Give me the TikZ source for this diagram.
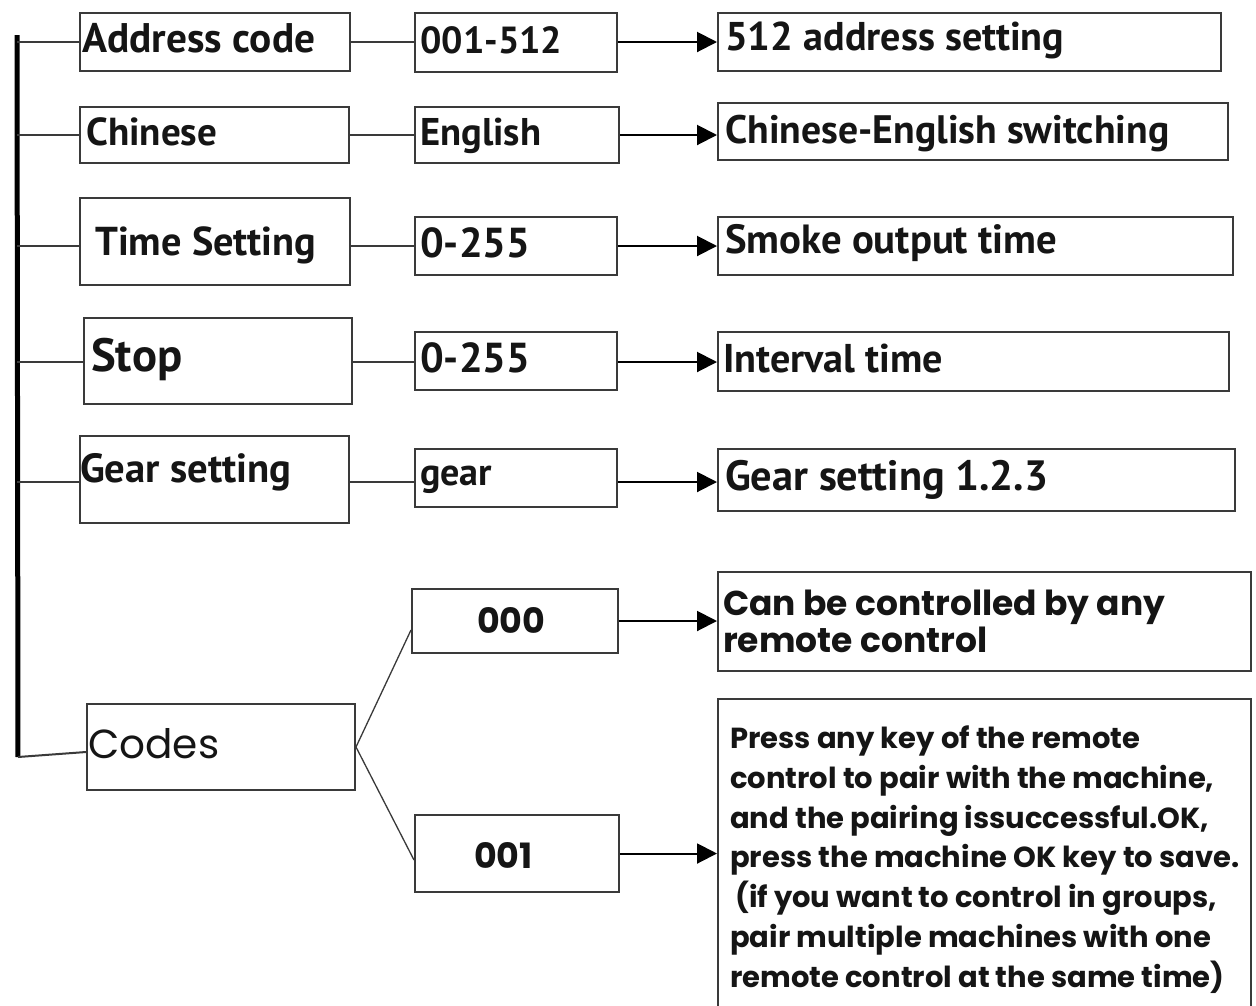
\documentclass[tikz,border=0pt]{standalone}
\usepackage{fontspec}
\usepackage{graphicx}
\setmainfont{PT Sans}
\newfontfamily\popfont{Poppins}
\usetikzlibrary{arrows.meta,fit}
\definecolor{boxc}{HTML}{3A3A3A}
\definecolor{txtc}{HTML}{151515}
\newcommand\fitw[2]{\resizebox{#1pt}{!}{#2}}
\newcommand\fith[2]{\resizebox{!}{#1pt}{#2}}
\begin{document}
\begin{tikzpicture}[x=1pt,y=-1pt,
  box/.style={draw=boxc,line width=2pt,inner sep=0pt,rectangle},
  lbl/.style={inner sep=0pt,anchor=base west,text=txtc,font=\bfseries},
  plbl/.style={inner sep=0pt,anchor=base west,text=txtc,font=\popfont\bfseries},
  mlbl/.style={inner sep=0pt,anchor=base west,text=txtc,font=\popfont},
  para/.style={inner sep=0pt,anchor=base west,text=txtc,font=\popfont\bfseries\fontsize{29}{40}\selectfont},
  link/.style={draw=boxc,line width=2pt},
  diag/.style={draw=boxc,line width=1.3pt},
  arr/.style={draw=black,line width=2pt,-{Triangle[length=20pt,width=20pt]}},
  spinel/.style={draw=black,line width=5pt}]
\fill[white] (0,0) rectangle (1256,1005);
\clip (0,0) rectangle (1256,1005);

% row coordinates
\coordinate (r1) at (0,42);
\coordinate (r2) at (0,135);
\coordinate (r3) at (0,246);
\coordinate (r4) at (0,362);
\coordinate (r5) at (0,482);
\coordinate (rc) at (0,752);
\coordinate (dk0) at (0,630);
\coordinate (dk1) at (0,860);
\coordinate (sp) at (17,35);
\coordinate (spb) at (18,757);

% boxes row 1
\node[box,fit={(80,13) (350,71)}] (a1) {};
\node[box,fit={(415,13) (617,72)}] (b1) {};
\node[box,fit={(718,13) (1221,71)}] (c1) {};
% row 2
\node[box,fit={(80,107) (349,163)}] (a2) {};
\node[box,fit={(415,107) (619,163)}] (b2) {};
\node[box,fit={(718,103) (1228,160)}] (c2) {};
% row 3
\node[box,fit={(80,198) (350,285)}] (a3) {};
\node[box,fit={(415,217) (617,275)}] (b3) {};
\node[box,fit={(718,217) (1233,275)}] (c3) {};
% row 4
\node[box,fit={(84,318) (352,404)}] (a4) {};
\node[box,fit={(415,332) (617,390)}] (b4) {};
\node[box,fit={(718,332) (1229,391)}] (c4) {};
% row 5
\node[box,fit={(80,436) (349,523)}] (a5) {};
\node[box,fit={(415,449) (617,507)}] (b5) {};
\node[box,fit={(718,449) (1235,511)}] (c5) {};
% codes
\node[box,fit={(87,704) (355,790)}] (codes) {};
\node[box,fit={(412,589) (618,653)}] (k0) {};
\node[box,fit={(415,815) (619,892)}] (k1) {};
\node[box,fit={(718,572) (1251,671)}] (res0) {};
\node[box,fit={(718,699) (1251,1030)}] (res1) {};

% labels
\node[lbl] (t1a) at (82,52) {\fitw{233}{Address code}};
\node[lbl] (t1b) at (420,53) {\fitw{142}{001-512}};
\node[lbl] (t1c) at (725,50) {\fitw{339}{512 address setting}};
\node[lbl] (t2a) at (86,145) {\fitw{131}{Chinese}};
\node[lbl] (t2b) at (420,145) {\fitw{121}{English}};
\node[lbl] (t2c) at (725,143) {\fitw{444}{Chinese-English switching}};
\node[lbl] (t3a) at (95,255) {\fitw{221}{Time Setting}};
\node[lbl] (t3b) at (420,257) {\fitw{110}{0-255}};
\node[lbl] (t3c) at (725,253) {\fitw{332}{Smoke output time}};
\node[lbl] (t4a) at (91,371) {\fitw{91}{Stop}};
\node[lbl] (t4b) at (420,372) {\fitw{110}{0-255}};
\node[lbl] (t4c) at (723,372) {\fitw{220}{Interval time}};
\node[lbl] (t5a) at (80,482) {\fitw{211}{Gear setting}};
\node[lbl] (t5b) at (420,485) {\fitw{72}{gear}};
\node[lbl] (t5c) at (725,490) {\fitw{323}{Gear setting 1.2.3}};
\node[mlbl] (tcodes) at (88,758) {\fitw{131}{Codes}};
\node[plbl] (tk0) at (477,633) {\fith{26}{000}};
\node[plbl] (tk1) at (474,868) {\fith{26}{001}};
\node[plbl] (tr0a) at (723,615) {\fitw{442}{Can be controlled by any}};
\node[plbl] (tr0b) at (723,652) {\fitw{264}{remote control}};
\node[para] (p1) at (730,748) {Press any key of the remote};
\node[para] (p2) at (730,788) {control to pair with the machine,};
\node[para] (p3) at (730,828) {and the pairing issuccessful.OK,};
\node[para] (p4) at (730,867) {press the machine OK key to save.};
\node[para] (p5) at (730,907) {\hspace{5pt}(if you want to control in groups,};
\node[para] (p6) at (730,947) {pair multiple machines with one};
\node[para] (p7) at (730,987) {remote control at the same time)};

% spine
\draw[spinel] (sp) -- (spb);
\foreach \i in {1,...,5}{
  \draw[link] (sp |- r\i) -- (a\i.west |- r\i);
  \draw[link] (a\i.east |- r\i) -- (b\i.west |- r\i);
  \draw[arr] (b\i.east |- r\i) -- (c\i.west |- r\i);
}
\draw[link] (spb) -- (codes.west |- rc);
\draw[diag] (codes.east) -- (k0.west |- dk0);
\draw[diag] (codes.east) -- (k1.west |- dk1);
\draw[arr] (k0.east) -- (res0.west |- k0.east);
\draw[arr] (k1.east) -- (res1.west |- k1.east);
\end{tikzpicture}
\end{document}
